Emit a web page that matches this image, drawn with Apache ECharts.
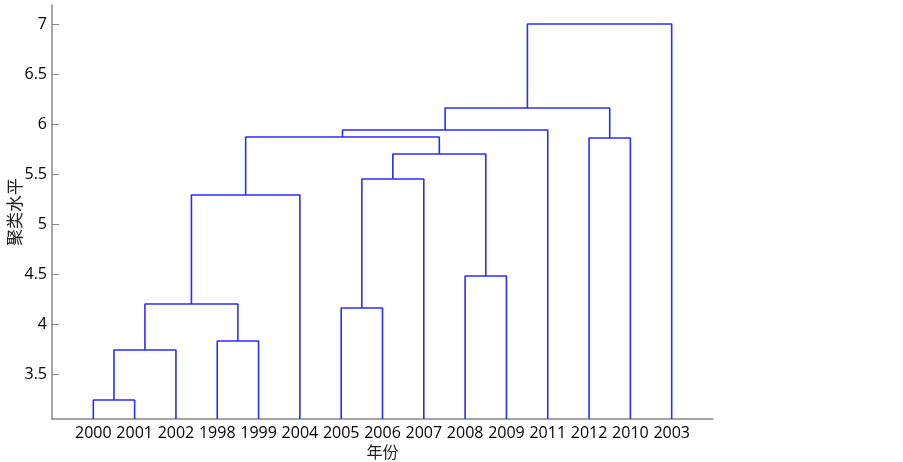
<!DOCTYPE html>
<html>
<head>
<meta charset="utf-8">
<script src="https://cdn.jsdelivr.net/npm/echarts@6/dist/echarts.min.js"></script>
<style>
html,body{margin:0;padding:0;background:#fff;}
#c{width:903px;height:462px;}
</style>
</head>
<body>
<div id="c"></div>
<script>
// Leaf order along the x axis
var leaves = ['2000','2001','2002','1998','1999','2004','2005','2006','2007','2008','2009','2011','2012','2010','2003'];
// Merges: child indices (0..14 = leaves, 15+k = merge k)
var mergeLeft  = [0, 15, 3, 16, 18, 6, 20,  9, 21, 19, 24, 12, 25, 27];
var mergeRight = [1,  2, 4, 17,  5, 7,  8, 10, 22, 23, 11, 13, 26, 14];
var mergeHeight = [3.24, 3.74, 3.83, 4.20, 5.29, 4.16, 5.45, 4.48, 5.70, 5.87, 5.94, 5.86, 6.16, 7.00];
var yTicks = [3.5, 4, 4.5, 5, 5.5, 6, 6.5, 7];

var yMin = 3.05, yMax = 7.19;

var nodeX = [], nodeY = [];
for (var i = 0; i < leaves.length; i++) { nodeX.push(i + 1); nodeY.push(yMin); }
var series = [];
for (var k = 0; k < mergeHeight.length; k++) {
  var a = mergeLeft[k], b = mergeRight[k], h = mergeHeight[k];
  series.push({
    type: 'line', silent: true, symbol: 'none', animation: false,
    lineStyle: {color: '#2b2bff', width: 1.6},
    data: [[nodeX[a], nodeY[a]], [nodeX[a], h], [nodeX[b], h], [nodeX[b], nodeY[b]]]
  });
  nodeX.push((nodeX[a] + nodeX[b]) / 2);
  nodeY.push(h);
}

var chart = echarts.init(document.getElementById('c'));
chart.setOption({
  backgroundColor: '#fff',
  grid: {left: 52, top: 5, right: 190, bottom: 43, containLabel: false, outerBoundsMode: 'none'},
  xAxis: {
    type: 'value', min: 0, max: leaves.length + 1, interval: 1,
    name: '年份', nameLocation: 'middle', nameGap: 25, nameMoveOverlap: false,
    nameTextStyle: {fontFamily: 'Noto Sans CJK SC', fontSize: 16, color: '#222'},
    axisLine: {show: true, lineStyle: {color: '#888', width: 1.5}},
    axisTick: {show: false},
    splitLine: {show: false},
    axisLabel: {
      fontFamily: 'Open Sans', fontSize: 16, color: '#000', margin: 6,
      showMinLabel: false, showMaxLabel: false,
      formatter: function (v) { return leaves[v - 1] || ''; }
    }
  },
  yAxis: {
    type: 'value', min: yMin, max: yMax,
    name: '聚类水平', nameLocation: 'middle', nameGap: 29, nameRotate: 90, nameMoveOverlap: false,
    nameTextStyle: {fontFamily: 'Noto Sans CJK SC', fontSize: 17, color: '#222'},
    axisLine: {show: true, lineStyle: {color: '#888', width: 1.5}},
    axisTick: {show: true, inside: true, length: 7, lineStyle: {color: '#888', width: 1}, customValues: yTicks},
    splitLine: {show: false},
    axisLabel: {fontFamily: 'Open Sans', fontSize: 16, color: '#000', margin: 5, customValues: yTicks,
      formatter: function (v) { return String(v); }}
  },
  series: series
});
</script>
</body>
</html>
